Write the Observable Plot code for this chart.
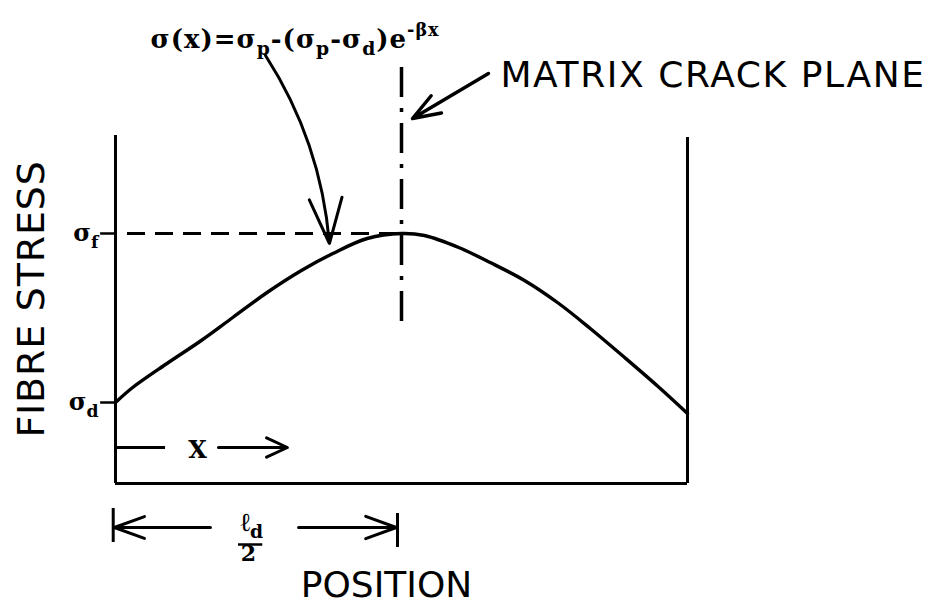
<!DOCTYPE html>
<html><head><meta charset="utf-8">
<script src="https://cdn.jsdelivr.net/npm/d3@7"></script>
<script src="https://cdn.jsdelivr.net/npm/@observablehq/plot@0.6"></script>
<style>
html,body{margin:0;padding:0;background:#fff;}
#chart svg{display:block;}
</style></head><body><div id="chart"></div>
<script>
// Position along fibre in units of l_d/2 (0 = left wall, 1 = matrix crack plane, 2 = right wall)
const position = [0, 0.06, 0.18, 0.30, 0.41, 0.53, 0.65, 0.76, 0.88, 1.00, 1.08, 1.20, 1.31, 1.43, 1.55, 1.66, 1.78, 1.90, 2.00];
// Fibre stress in units of sigma_f
const stress   = [0.324, 0.384, 0.48, 0.572, 0.664, 0.764, 0.852, 0.92, 0.98, 1.00, 0.992, 0.944, 0.884, 0.812, 0.72, 0.62, 0.504, 0.385, 0.28];

const sigmaF = 1.0;
const sigmaD = 0.324;
const crackX = 1;
const wallLeft = 0, wallRight = 2;
const wallTopLeft = 1.392, wallTopRight = 1.384;

const yTickLabels = ["σ_{f}", "σ_{d}"];
const yTickValues = [sigmaF, sigmaD];

const formulaText = "σ(x)=σ_{p}-(σ_{p}-σ_{d})e^{-βx}";
const crackLabel = "MATRIX CRACK PLANE";
const yTitle = "FIBRE STRESS";
const xTitle = "POSITION";
const xVarLabel = "X";
const ldLabel = "ℓ_{d}";
const ldDenom = "2";

const curve = position.map((p, i) => ({position: p, stress: stress[i]}));

const serif = "'DejaVu Serif', 'Liberation Serif', serif";
const sans = "'DejaVu Sans', sans-serif";

const plot = Plot.plot({
  width: 934, height: 607,
  marginTop: 0, marginRight: 0, marginBottom: 0, marginLeft: 0,
  x: {domain: [-115/286, 819/286], axis: null},
  y: {domain: [-124/250, 483/250], axis: null},
  style: {background: "#fff", overflow: "visible"},
  marks: [
    // frame walls and base
    Plot.ruleX([wallLeft], {y1: 0, y2: wallTopLeft, strokeWidth: 3, stroke: "#000"}),
    Plot.ruleX([wallRight], {y1: 0, y2: wallTopRight, strokeWidth: 3, stroke: "#000"}),
    Plot.ruleY([0], {x1: wallLeft, x2: wallRight, strokeWidth: 3, stroke: "#000"}),
    // stress ticks
    Plot.ruleY(yTickValues, {x1: -0.052, x2: 0, strokeWidth: 2.5, stroke: "#000"}),
    // sigma_f dashed level
    Plot.ruleY([sigmaF], {x1: 0.042, x2: crackX, strokeWidth: 3, stroke: "#000", strokeDasharray: "18,10"}),
    // matrix crack plane dash-dot
    Plot.ruleX([crackX], {y1: 1.664, y2: 0.632, strokeWidth: 3.5, stroke: "#000", strokeDasharray: "30,11,4,11"}),
    // fibre stress curve
    Plot.line(curve, {x: "position", y: "stress", curve: "catmull-rom", strokeWidth: 3.4, stroke: "#000"}),
    // tick labels
    Plot.text(yTickValues, {x: -0.0594, y: d => d - 0.028, text: (d, i) => yTickLabels[i], textAnchor: "end", lineAnchor: "bottom", fontFamily: serif, fontWeight: "bold", fontSize: 24, fill: "#000"}),
    // formula
    Plot.text([formulaText], {x: 0.1224, y: 1.744, text: d => d, textAnchor: "start", lineAnchor: "bottom", fontFamily: serif, fontWeight: "bold", fontSize: 26, fill: "#000"}),
    // formula arrow
    Plot.arrow([{x1: 0.5245, y1: 1.712, x2: 0.748, y2: 0.96}], {x1: "x1", y1: "y1", x2: "x2", y2: "y2", bend: 14, headLength: 24, headAngle: 40, strokeWidth: 3, stroke: "#000"}),
    // crack plane label + arrow
    Plot.text([crackLabel], {x: 1.346, y: 1.588, text: d => d, textAnchor: "start", lineAnchor: "bottom", fontFamily: sans, fontSize: 36, fill: "#000"}),
    Plot.arrow([{x1: 1.304, y1: 1.64, x2: 1.0385, y2: 1.46}], {x1: "x1", y1: "y1", x2: "x2", y2: "y2", headLength: 22, headAngle: 40, strokeWidth: 3.5, stroke: "#000"}),
    // axis titles
    Plot.text([yTitle], {x: -0.2517, y: 0.738, text: d => d, rotate: -90, textAnchor: "middle", lineAnchor: "bottom", fontFamily: sans, fontSize: 38, fill: "#000"}),
    Plot.text([xTitle], {x: 0.9476, y: -0.452, text: d => d, textAnchor: "middle", lineAnchor: "bottom", fontFamily: sans, fontSize: 36, fill: "#000"}),
    // X arrow
    Plot.ruleY([0.144], {x1: wallLeft, x2: 0.175, strokeWidth: 3, stroke: "#000"}),
    Plot.text([xVarLabel], {x: 0.2867, y: 0.104, text: d => d, textAnchor: "middle", lineAnchor: "bottom", fontFamily: serif, fontWeight: "bold", fontSize: 24, fill: "#000"}),
    Plot.arrow([{x1: 0.36, y1: 0.144, x2: 0.601, y2: 0.144}], {x1: "x1", y1: "y1", x2: "x2", y2: "y2", headLength: 20, headAngle: 50, strokeWidth: 3, stroke: "#000"}),
    // l_d / 2 dimension
    Plot.ruleX([-0.008], {y1: -0.1, y2: -0.236, strokeWidth: 3, stroke: "#000"}),
    Plot.ruleX([0.986], {y1: -0.12, y2: -0.256, strokeWidth: 3, stroke: "#000"}),
    Plot.arrow([{x1: 0.332, y1: -0.176, x2: -0.004, y2: -0.176}, {x1: 0.64, y1: -0.176, x2: 0.982, y2: -0.176}], {x1: "x1", y1: "y1", x2: "x2", y2: "y2", headLength: 22, headAngle: 40, strokeWidth: 3, stroke: "#000"}),
    Plot.text([ldLabel], {x: 0.476, y: -0.188, text: d => d, textAnchor: "middle", lineAnchor: "bottom", fontFamily: serif, fontWeight: "bold", fontSize: 26, fill: "#000"}),
    Plot.ruleY([-0.244], {x1: 0.43, x2: 0.515, strokeWidth: 2.5, stroke: "#000"}),
    Plot.text([ldDenom], {x: 0.465, y: -0.308, text: d => d, textAnchor: "middle", lineAnchor: "bottom", fontFamily: serif, fontWeight: "bold", fontSize: 22, fill: "#000"})
  ]
});

document.getElementById("chart").appendChild(plot);

// Rich text: _{..} subscripts and ^{..} superscripts
const NS = "http://www.w3.org/2000/svg";
d3.select(plot).selectAll("text").each(function() {
  const s = this.textContent;
  if (s === crackLabel) this.style.letterSpacing = "1.6px";
  if (s === yTitle) this.style.letterSpacing = "0.8px";
  if (s === formulaText) this.style.letterSpacing = "1px";
  if (!/[_^]\{/.test(s)) return;
  const fs = parseFloat(getComputedStyle(this).fontSize) || 26;
  this.textContent = "";
  const re = /([_^])\{([^}]*)\}|([^_^]+)/g;
  let m, shift = 0;
  while ((m = re.exec(s))) {
    const t = document.createElementNS(NS, "tspan");
    let target = 0;
    if (m[1] === "_") { target = 0.3 * fs; t.setAttribute("font-size", 0.72 * fs); t.textContent = m[2]; }
    else if (m[1] === "^") { target = -0.45 * fs; t.setAttribute("font-size", 0.68 * fs); t.textContent = m[2]; }
    else { target = 0; t.textContent = m[3]; }
    t.setAttribute("dy", target - shift);
    shift = target;
    this.appendChild(t);
  }
});
</script>
</body></html>
